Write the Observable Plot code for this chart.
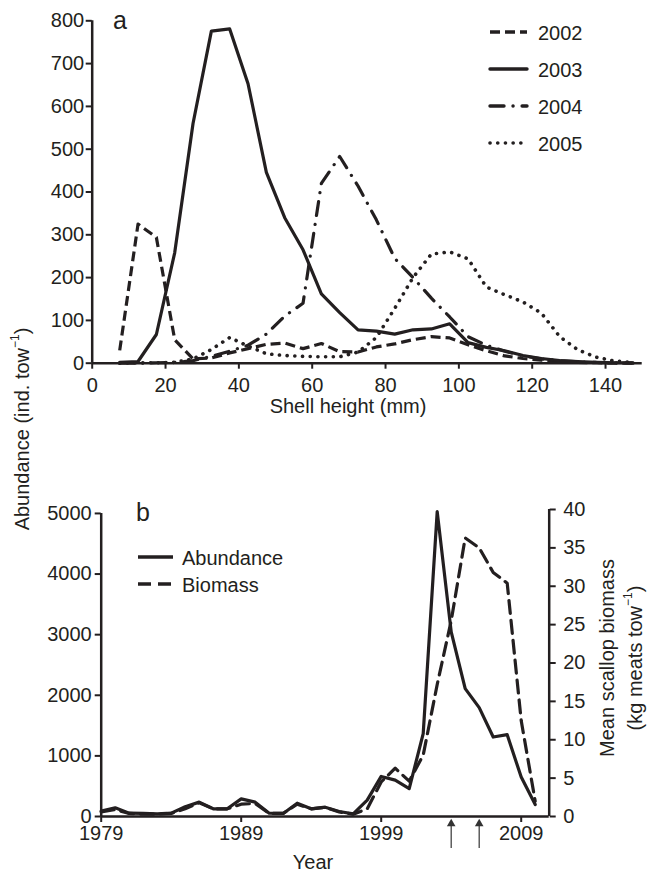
<!DOCTYPE html>
<html><head><meta charset="utf-8">
<script src="https://cdn.jsdelivr.net/npm/d3@7"></script>
<script src="https://cdn.jsdelivr.net/npm/@observablehq/plot@0.6"></script>
<style>
body{margin:0;background:#fff;}
#wrap{position:relative;width:649px;height:873px;overflow:hidden;}
#wrap > svg{position:absolute;left:0;}
</style></head><body><div id="wrap"></div>
<script>
// ---------- Panel a data ----------
const shellHeight = [7.5,12.5,17.5,22.5,27.5,32.5,37.5,42.5,47.5,52.5,57.5,62.5,67.5,72.5,77.5,82.5,87.5,92.5,97.5,102.5,107.5,112.5,117.5,122.5,127.5,132.5,137.5,142.5,147.5];
const n2002 = [30,325,294,55,10,12,24,34,44,47,34,46,27,26,38,45,55,62,59,43,29,17,11,7,4,2,1,0,0];
const n2003 = [2,4,67,258,560,776,781,653,446,340,265,162,118,78,75,68,78,80,92,48,37,29,18,11,6,4,2,1,1];
const n2004 = [0,0,1,2,6,16,28,42,68,110,140,420,483,414,335,245,200,152,108,62,42,28,17,10,6,3,2,1,0];
const n2005 = [0,1,1,2,10,32,60,40,22,18,16,15,15,26,60,128,200,255,260,244,178,160,143,117,62,31,14,5,2];
const seriesNamesA = ["2002","2003","2004","2005"];
const xTicksA = [0,20,40,60,80,100,120,140];
const yTicksA = [0,100,200,300,400,500,600,700,800];

// ---------- Panel b data ----------
const years = [1979,1980,1981,1982,1983,1984,1985,1986,1987,1988,1989,1990,1991,1992,1993,1994,1995,1996,1997,1998,1999,2000,2001,2002,2003,2004,2005,2006,2007,2008,2009,2010];
const abundance = [88,143,55,50,44,55,160,237,127,127,290,237,55,50,220,127,154,83,44,270,661,600,460,1366,5030,3047,2110,1796,1311,1350,650,198];
const biomass = [0.6,0.9,0.4,0.3,0.3,0.4,1.0,1.8,1.0,1.0,1.6,1.7,0.4,0.4,1.6,1.0,1.2,0.6,0.3,1.0,4.5,6.3,4.6,8.0,17.2,25.5,36.3,35.0,31.8,30.4,12.5,2.0];
const yearTicks = [1979,1989,1999,2009];
const abundanceTicks = [0,1000,2000,3000,4000,5000];
const biomassTicks = [0,5,10,15,20,25,30,35,40];
const arrowYears = [2004,2006];
const seriesNamesB = ["Abundance","Biomass"];

// ---------- styling ----------
const ink = "#231f20";
const font = '"Liberation Sans", Arial, Helvetica, sans-serif';
const FS = 20;
const dashA = {"2002":"10,5","2003":null,"2004":"14,9,0.1,9","2005":"0.1,7.6"};
const capA = {"2002":"butt","2003":"round","2004":"round","2005":"round"};
const dashB = {"Abundance":null,"Biomass":"13,7"};
const wrap = document.getElementById("wrap");

// ---------- Panel a ----------
const dataA = {"2002":n2002,"2003":n2003,"2004":n2004,"2005":n2005};
const plotA = Plot.plot({
  width: 649, height: 480,
  marginLeft: 91.7, marginRight: 7.3, marginTop: 20.3, marginBottom: 117.3,
  x: {domain: [0,150]},
  y: {domain: [0,800]},
  style: {fontFamily: font, fontSize: FS+"px", color: ink, background: "transparent", overflow: "visible"},
  marks: [
    Plot.axisX({ticks: xTicksA, tickSize: 6, tickPadding: 9, label: null, stroke: ink, strokeWidth: 2, fontSize: FS}),
    Plot.axisY({ticks: yTicksA, tickSize: 6, tickPadding: 2, label: null, stroke: ink, strokeWidth: 2, fontSize: FS}),
    Plot.ruleY([0], {stroke: ink, strokeWidth: 2.5}),
    Plot.ruleX([0], {stroke: ink, strokeWidth: 2.5}),
    ...seriesNamesA.map(s => Plot.line(dataA[s], {
      x: (d,i) => shellHeight[i], y: d => d,
      stroke: ink, strokeWidth: s === "2005" ? 3.6 : 3.2,
      strokeDasharray: dashA[s], strokeLinecap: capA[s], strokeLinejoin: "round"
    }))
  ]
});
plotA.style.top = "0px";
wrap.appendChild(plotA);

// ---------- Panel b ----------
const k = 5065/40; // biomass units -> abundance axis units
const plotB = Plot.plot({
  width: 649, height: 393,
  marginLeft: 100.7, marginRight: 100.3, marginTop: 29, marginBottom: 57,
  x: {domain: [1979, 2011]},
  y: {domain: [0, 5065]},
  style: {fontFamily: font, fontSize: FS+"px", color: ink, background: "transparent", overflow: "visible"},
  marks: [
    Plot.axisX({ticks: yearTicks, tickFormat: d => String(d), tickSize: 6, tickPadding: 3, label: null, stroke: ink, strokeWidth: 2, fontSize: FS}),
    Plot.axisY({ticks: abundanceTicks, tickFormat: d => String(d), tickSize: 6, tickPadding: 3.5, label: null, stroke: ink, strokeWidth: 2, fontSize: FS}),
    Plot.axisY({anchor: "right", ticks: biomassTicks.map(v => v*k), tickFormat: d => String(Math.round(d/k)), tickSize: 6, tickPadding: 8, label: null, stroke: ink, strokeWidth: 2, fontSize: FS}),
    Plot.ruleY([0], {stroke: ink, strokeWidth: 2.5}),
    Plot.ruleX([1979], {y1: 0, y2: 5000, stroke: ink, strokeWidth: 2.5}),
    Plot.ruleX([2011], {y1: 0, y2: 40*k, stroke: ink, strokeWidth: 2.5}),
    Plot.line(abundance, {x: (d,i) => years[i], y: d => d, stroke: ink, strokeWidth: 3.2, strokeLinejoin: "round"}),
    Plot.line(biomass, {x: (d,i) => years[i], y: d => d*k, stroke: ink, strokeWidth: 3.2, strokeDasharray: dashB["Biomass"], strokeLinejoin: "round"}),
    Plot.ruleX(arrowYears, {x: d => d, y1: -528, y2: -150, stroke: "#444", strokeWidth: 1.3}),
    Plot.dot(arrowYears, {x: d => d, y: -118, symbol: "triangle", r: 3.2, fill: "#333", stroke: "none"})
  ]
});
plotB.style.top = "480px";
wrap.appendChild(plotB);

// ---------- Overlay: legends, titles, panel letters ----------
const NS = "http://www.w3.org/2000/svg";
const ov = document.createElementNS(NS, "svg");
ov.setAttribute("width", 649); ov.setAttribute("height", 873);
ov.style.top = "0px"; ov.style.pointerEvents = "none";
ov.setAttribute("font-family", font); ov.setAttribute("fill", ink);
wrap.appendChild(ov);
function el(tag, attrs, parent) {
  const e = document.createElementNS(NS, tag);
  for (const a in attrs) e.setAttribute(a, attrs[a]);
  (parent || ov).appendChild(e); return e;
}
function txt(x, y, s, opts = {}) {
  const t = el("text", Object.assign({x, y, "font-size": FS, "dominant-baseline": "central"}, opts));
  t.textContent = s; return t;
}
function supText(parent, before, sup, after) {
  parent.appendChild(document.createTextNode(before));
  const ts = el("tspan", {"baseline-shift": "super", "font-size": 12}, parent);
  ts.textContent = sup;
  const t2 = el("tspan", {}, parent);
  t2.textContent = after;
}

// legend a
const legA_y = [32, 69, 106, 143];
seriesNamesA.forEach((s, i) => {
  const y = legA_y[i];
  const ln = el("line", {x1: 490, x2: 527, y1: y, y2: y, stroke: ink, "stroke-width": s === "2005" ? 3.6 : 3.4, "stroke-linecap": capA[s]});
  if (dashA[s]) ln.setAttribute("stroke-dasharray", dashA[s]);
  txt(538, y + 1, s);
});
// legend b
const legB_y = [557, 584];
seriesNamesB.forEach((s, i) => {
  const y = legB_y[i];
  const ln = el("line", {x1: 138, x2: 173, y1: y, y2: y, stroke: ink, "stroke-width": 3.4});
  if (dashB[s]) ln.setAttribute("stroke-dasharray", dashB[s]);
  txt(182, y + 1, s);
});
// panel letters
txt(113, 20, "a", {"font-size": 25});
txt(136, 512, "b", {"font-size": 25});
// axis titles
txt(348, 406, "Shell height (mm)", {"text-anchor": "middle"});
txt(313, 862, "Year", {"text-anchor": "middle"});
const yl = el("text", {transform: "translate(22,429) rotate(-90)", "text-anchor": "middle", "dominant-baseline": "central", "font-size": FS});
supText(yl, "Abundance (ind. tow", "−1", ")");
const r1 = el("text", {transform: "translate(607,658) rotate(-90)", "text-anchor": "middle", "dominant-baseline": "central", "font-size": FS});
r1.textContent = "Mean scallop biomass";
const r2 = el("text", {transform: "translate(635,658) rotate(-90)", "text-anchor": "middle", "dominant-baseline": "central", "font-size": FS});
supText(r2, "(kg meats tow", "−1", ")");
</script></body></html>
